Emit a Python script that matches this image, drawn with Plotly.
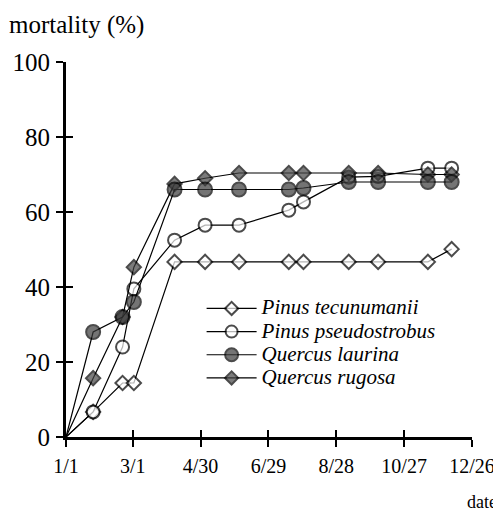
import plotly.graph_objects as go

# days since 1/1
days = [0, 24, 50, 60, 96, 123, 153, 197, 210, 250, 276, 320, 341]

tick_vals = [0, 59, 119, 179, 239, 299, 359]
tick_text = ["1/1", "3/1", "4/30", "6/29", "8/28", "10/27", "12/26"]
y_ticks = [0, 20, 40, 60, 80, 100]

pinus_tecunumanii = [0, 6.7, 14.4, 14.4, 46.7, 46.7, 46.7, 46.7, 46.7, 46.7, 46.7, 46.7, 50.1]
pinus_pseudostrobus = [0, 6.7, 24.0, 39.5, 52.5, 56.5, 56.5, 60.5, 62.7, 69.3, 69.5, 71.7, 71.7]
quercus_laurina = [0, 28.0, 32.0, 36.0, 66.0, 66.0, 66.0, 66.0, 66.4, 68.0, 68.0, 68.0, 68.0]
quercus_rugosa = [0, 15.7, 32.0, 45.3, 67.5, 69.0, 70.4, 70.4, 70.4, 70.4, 70.4, 70.0, 70.0]

names = ["Pinus tecunumanii", "Pinus pseudostrobus", "Quercus laurina", "Quercus rugosa"]
series = [pinus_tecunumanii, pinus_pseudostrobus, quercus_laurina, quercus_rugosa]
symbols = ["diamond", "circle", "circle", "diamond"]
fills = ["white", "white", "#3a3a3a", "#454545"]
sizes = [11, 13, 14, 11]

serif = "Liberation Serif"

fig = go.Figure()
order = [0, 1, 3, 2]
for i in order:
    msize = [0] + [sizes[i]] * (len(days) - 1)
    fig.add_trace(go.Scatter(
        x=days, y=series[i], mode="lines+markers",
        name='<span style="font-size:21px"><i>' + names[i] + "</i></span>",
        line=dict(color="black", width=1.2),
        marker=dict(symbol=symbols[i], size=msize, color=fills[i],
                    line=dict(color="black", width=2)),
        legendrank=i,
    ))

# invisible trace on overlay axes (for ticks crossing the axis line)
fig.add_trace(go.Scatter(x=[None], y=[None], xaxis="x2", yaxis="y2",
                         showlegend=False, hoverinfo="skip"))

common_x = dict(range=[0, 359], tickvals=tick_vals, showgrid=False, zeroline=False,
                showline=True, linecolor="black", linewidth=3, automargin=False,
                tickcolor="black", tickwidth=2, ticklen=7)
common_y = dict(range=[0, 100], tickvals=y_ticks, showgrid=False, zeroline=False,
                showline=True, linecolor="black", linewidth=3, automargin=False,
                tickcolor="black", tickwidth=2, ticklen=7)

# the page body has an 8px margin, so the figure is 8px smaller than the window
fig.update_layout(
    width=493, height=505,
    margin=dict(l=58, r=29, t=54, b=76, autoexpand=False),
    paper_bgcolor="white", plot_bgcolor="white",
    showlegend=True,
    xaxis=dict(**common_x, ticks="outside", ticktext=tick_text,
               tickfont=dict(family=serif, size=20, color="black"),
               ticklabelstandoff=2),
    yaxis=dict(**common_y, ticks="outside",
               tickfont=dict(family=serif, size=25, color="black"),
               ticklabelstandoff=1),
    xaxis2=dict(**common_x, ticks="inside", showticklabels=False,
                overlaying="x", anchor="y2"),
    yaxis2=dict(**common_y, ticks="inside", showticklabels=False,
                overlaying="y", anchor="x2"),
    legend=dict(x=0.334, y=0.387, xanchor="left", yanchor="top",
                bgcolor="rgba(0,0,0,0)", borderwidth=0,
                font=dict(family=serif, size=15.5, color="black"),
                itemwidth=50, traceorder="normal"),
    annotations=[
        dict(text="mortality (%)", xref="paper", yref="paper",
             x=-0.145, y=1.0987, xanchor="left", yanchor="middle",
             showarrow=False, font=dict(family=serif, size=25, color="black")),
        dict(text="date", xref="paper", yref="paper",
             x=0.983, y=-0.173, xanchor="left", yanchor="middle",
             showarrow=False, font=dict(family=serif, size=18, color="black")),
    ],
)

fig.write_html("out.html")
